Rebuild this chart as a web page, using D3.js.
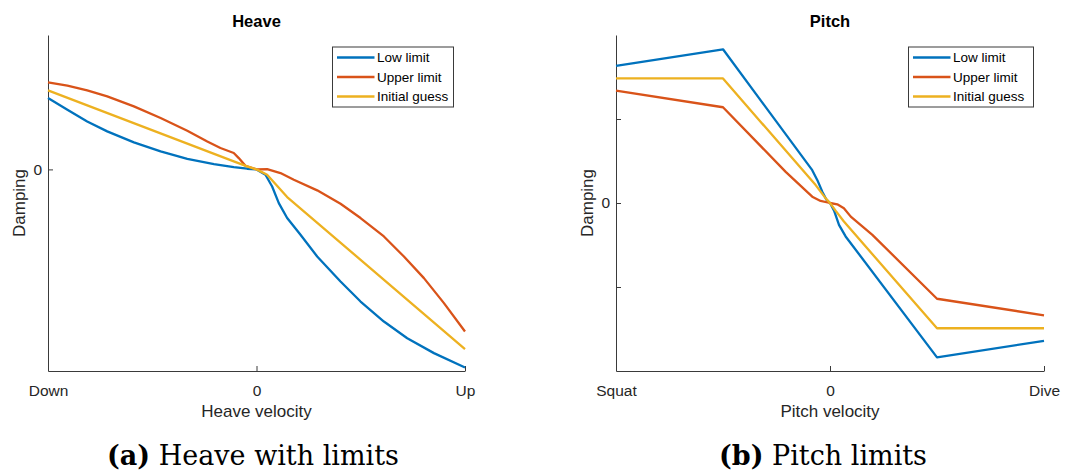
<!DOCTYPE html>
<html>
<head>
<meta charset="utf-8">
<script src="https://cdn.jsdelivr.net/npm/d3@7"></script>
<style>
  html, body { margin: 0; padding: 0; background: #fff; }
  svg { display: block; }
</style>
</head>
<body>
<svg id="chart" width="1065" height="470"></svg>
<script>
// ---- Series names and colours ----
const seriesNames = ["Low limit", "Upper limit", "Initial guess"];
const seriesColors = ["#0072BD", "#D95319", "#EDB120"];

// ---- Heave panel (normalised velocity vs damping) ----
const heaveXTicks = [-1, 0, 1];
const heaveXTickLabels = ["Down", "0", "Up"];
const heaveYTicks = [0];
const heaveYTickLabels = ["0"];

const heaveLowX = [-1, -0.907, -0.812, -0.716, -0.588, -0.46, -0.332, -0.204, -0.109, -0.045, 0, 0.043, 0.075, 0.107, 0.147, 0.211, 0.291, 0.403, 0.499, 0.611, 0.723, 0.851, 1];
const heaveLowY = [0.531, 0.444, 0.357, 0.283, 0.201, 0.134, 0.079, 0.04, 0.017, 0.005, 0, -0.04, -0.127, -0.251, -0.362, -0.486, -0.648, -0.834, -0.983, -1.132, -1.256, -1.367, -1.474];

const heaveUpX = [-1, -0.907, -0.812, -0.716, -0.588, -0.46, -0.332, -0.236, -0.173, -0.109, -0.085, -0.053, 0, 0.051, 0.115, 0.179, 0.291, 0.403, 0.499, 0.611, 0.707, 0.803, 0.899, 1];
const heaveUpY = [0.648, 0.623, 0.588, 0.543, 0.469, 0.382, 0.288, 0.208, 0.159, 0.122, 0.084, 0.027, 0, 0.002, -0.027, -0.077, -0.156, -0.256, -0.362, -0.499, -0.648, -0.809, -0.995, -1.206];

const heaveGuessX = [-1, -0.109, -0.045, 0, 0.051, 0.147, 1];
const heaveGuessY = [0.588, 0.06, 0.022, 0, -0.04, -0.206, -1.337];

// ---- Pitch panel ----
const pitchXTicks = [-1, 0, 1];
const pitchXTickLabels = ["Squat", "0", "Dive"];
const pitchYTicks = [-1, 0, 1];
const pitchYTickLabels = ["", "0", ""];

const pitchLowX = [-1, -0.5, -0.083, -0.059, -0.036, -0.016, 0, 0.019, 0.042, 0.073, 0.5, 1];
const pitchLowY = [1.633, 1.83, 0.391, 0.272, 0.134, 0.036, 0, -0.091, -0.26, -0.398, -1.838, -1.641];

const pitchUpX = [-1, -0.5, -0.207, -0.083, -0.044, 0, 0.034, 0.065, 0.097, 0.198, 0.5, 1];
const pitchUpY = [1.337, 1.14, 0.371, 0.075, 0.024, 0, -0.016, -0.063, -0.162, -0.379, -1.14, -1.337];

const pitchGuessX = [-1, -0.5, -0.067, -0.02, 0, 0.026, 0.065, 0.5, 1];
const pitchGuessY = [1.483, 1.483, 0.213, 0.055, 0, -0.091, -0.221, -1.491, -1.491];

const svg = d3.select("#chart");
svg.append("rect").attr("width", 1065).attr("height", 470).attr("fill", "#fff");

const sansFont = "Liberation Sans, Arial, Helvetica, sans-serif";
const axisColor = "#3a3a3a";
const textColor = "#262626";

function drawPanel(p) {
  const x = d3.scaleLinear().domain([-1, 1]).range([p.left, p.right]);
  const y = d3.scaleLinear().domain(p.yDomain).range([p.bottom, p.top]);
  const g = svg.append("g");

  // x axis with inward ticks
  const xAxis = d3.axisBottom(x)
    .tickValues(p.xTicks)
    .tickFormat((d, i) => p.xTickLabels[i])
    .tickSizeInner(-5).tickSizeOuter(0).tickPadding(14);
  const gx = g.append("g").attr("transform", `translate(0,${p.bottom})`).call(xAxis);
  gx.select(".domain").attr("stroke", axisColor).attr("stroke-width", 1);
  gx.selectAll(".tick line").attr("stroke", axisColor);
  gx.selectAll(".tick text").attr("fill", textColor)
    .style("font-family", sansFont).style("font-size", "15.5px");

  // y axis with inward ticks
  const yAxis = d3.axisLeft(y)
    .tickValues(p.yTicks)
    .tickFormat((d, i) => p.yTickLabels[i])
    .tickSizeInner(-5).tickSizeOuter(0).tickPadding(6);
  const gy = g.append("g").attr("transform", `translate(${p.left},0)`).call(yAxis);
  gy.select(".domain").attr("stroke", axisColor).attr("stroke-width", 1);
  gy.selectAll(".tick line").attr("stroke", axisColor);
  gy.selectAll(".tick text").attr("fill", textColor)
    .style("font-family", sansFont).style("font-size", "15.5px");

  // series lines
  const line = d3.line().x(d => x(d[0])).y(d => y(d[1]));
  p.series.forEach((s, i) => {
    const pts = s.x.map((v, k) => [v, s.y[k]]);
    g.append("path").datum(pts)
      .attr("d", line)
      .attr("fill", "none")
      .attr("stroke", seriesColors[i])
      .attr("stroke-width", 2.3)
      .attr("stroke-linejoin", "round");
  });

  // title
  g.append("text")
    .attr("x", (p.left + p.right) / 2).attr("y", 27)
    .attr("text-anchor", "middle")
    .style("font-family", sansFont).style("font-size", "16.5px").style("font-weight", "bold")
    .attr("fill", "#000")
    .text(p.title);

  // axis labels
  g.append("text")
    .attr("x", (p.left + p.right) / 2).attr("y", 417)
    .attr("text-anchor", "middle")
    .style("font-family", sansFont).style("font-size", "17px")
    .attr("fill", textColor)
    .text(p.xLabel);
  g.append("text")
    .attr("transform", `translate(${p.left - p.yLabelOffset},${(p.top + p.bottom) / 2}) rotate(-90)`)
    .attr("text-anchor", "middle")
    .style("font-family", sansFont).style("font-size", "17px")
    .attr("fill", textColor)
    .text(p.yLabel);

  // legend
  const lg = g.append("g").attr("transform", `translate(${p.legendX},47)`);
  lg.append("rect")
    .attr("width", p.legendW).attr("height", 60)
    .attr("fill", "#fff").attr("stroke", axisColor).attr("stroke-width", 1);
  seriesNames.forEach((name, i) => {
    const ly = 10.5 + i * 19.5;
    lg.append("line")
      .attr("x1", 4.5).attr("x2", 42).attr("y1", ly).attr("y2", ly)
      .attr("stroke", seriesColors[i]).attr("stroke-width", 2.3);
    lg.append("text")
      .attr("x", 44.5).attr("y", ly).attr("dy", "0.36em")
      .style("font-family", sansFont).style("font-size", "13.5px")
      .attr("fill", "#000")
      .text(name);
  });

  // caption
  const cap = svg.append("text")
    .attr("x", p.captionX).attr("y", 465)
    .attr("text-anchor", "middle")
    .style("font-family", "DejaVu Serif, serif").style("font-size", "27px")
    .attr("fill", "#000");
  cap.append("tspan").style("font-weight", "bold").text(p.captionTag);
  cap.append("tspan").text(" " + p.captionText);
}

drawPanel({
  left: 48, right: 465, top: 35, bottom: 371,
  yDomain: [-1.5, 1],
  xTicks: heaveXTicks, xTickLabels: heaveXTickLabels,
  yTicks: heaveYTicks, yTickLabels: heaveYTickLabels,
  series: [
    { x: heaveLowX, y: heaveLowY },
    { x: heaveUpX, y: heaveUpY },
    { x: heaveGuessX, y: heaveGuessY }
  ],
  title: "Heave", xLabel: "Heave velocity", yLabel: "Damping", yLabelOffset: 23,
  legendX: 332.5, legendW: 121,
  captionX: 253, captionTag: "(a)", captionText: "Heave with limits"
});

drawPanel({
  left: 616, right: 1044, top: 35, bottom: 371,
  yDomain: [-2, 2],
  xTicks: pitchXTicks, xTickLabels: pitchXTickLabels,
  yTicks: pitchYTicks, yTickLabels: pitchYTickLabels,
  series: [
    { x: pitchLowX, y: pitchLowY },
    { x: pitchUpX, y: pitchUpY },
    { x: pitchGuessX, y: pitchGuessY }
  ],
  title: "Pitch", xLabel: "Pitch velocity", yLabel: "Damping", yLabelOffset: 23,
  legendX: 908.5, legendW: 125,
  captionX: 823, captionTag: "(b)", captionText: "Pitch limits"
});
</script>
</body>
</html>
